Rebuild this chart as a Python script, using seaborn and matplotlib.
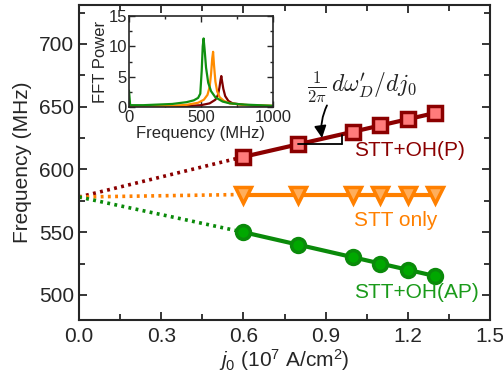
import numpy as np
import pandas as pd
import matplotlib
matplotlib.use("Agg")
import matplotlib.pyplot as plt
import seaborn as sns

# ---- data ----
j0 = [0.6, 0.8, 1.0, 1.1, 1.2, 1.3]
f_P = [610, 620, 630, 635, 640, 645]
f_STT = [580, 580, 580, 580, 580, 580]
f_AP = [550, 540, 530, 525, 520, 515]
f_intercept = 578
j_extrap = [0.0, 0.6]

fft_freq_g = [0, 8, 100, 200, 300, 400, 450, 480, 495, 505, 512, 518, 525, 535, 550, 570, 600, 650, 700, 800, 900, 1000]
fft_pow_g = [2.7, 0.3, 0.3, 0.4, 0.5, 0.8, 1.1, 1.5, 2.2, 6.0, 10.0, 11.3, 9.5, 6.5, 4.0, 2.6, 1.6, 0.9, 0.6, 0.4, 0.3, 0.2]
fft_freq_o = [0, 100, 200, 300, 400, 480, 520, 545, 560, 570, 578, 584, 590, 600, 612, 630, 660, 700, 800, 900, 1000]
fft_pow_o = [0.1, 0.1, 0.15, 0.2, 0.35, 0.7, 1.2, 2.0, 3.3, 5.5, 8.0, 9.1, 7.0, 4.2, 2.6, 1.6, 1.0, 0.6, 0.35, 0.25, 0.2]
fft_freq_r = [0, 100, 200, 300, 400, 500, 560, 600, 618, 628, 636, 641, 646, 655, 668, 690, 720, 800, 900, 1000]
fft_pow_r = [0.05, 0.05, 0.1, 0.1, 0.15, 0.3, 0.6, 1.2, 2.0, 3.2, 4.5, 5.1, 4.3, 3.0, 1.8, 1.0, 0.6, 0.35, 0.2, 0.15]

x_ticks = [0.0, 0.3, 0.6, 0.9, 1.2, 1.5]
y_ticks = [500, 550, 600, 650, 700]

red_line = "#8b0000"
red_face = "#ff7b7b"
orange = "#ff8000"
orange_face = "#ffae5c"
green_line = "#0a8a0a"
green_face = "#00a800"

sns.set_theme(style="ticks")
plt.rcParams["font.family"] = ["Liberation Sans", "DejaVu Sans"]
plt.rcParams["mathtext.fontset"] = "custom"
plt.rcParams["mathtext.rm"] = "Liberation Sans"
plt.rcParams["mathtext.it"] = "Liberation Sans:italic"
plt.rcParams["mathtext.bf"] = "Liberation Sans:bold"

fig = plt.figure(figsize=(5.03, 3.74), dpi=100)
ax = fig.add_axes([79/503, 1-320/374, 411/503, 315/374])

# extrapolated dotted lines
for start, first, col in [(f_intercept, f_P[0], red_line), (f_intercept, f_STT[0], orange), (f_intercept, f_AP[0], green_line)]:
    sns.lineplot(x=j_extrap, y=[start, first], ax=ax, color=col, lw=2.6, linestyle=(0, (0.8, 1.2)))

sns.lineplot(x=j0, y=f_P, ax=ax, color=red_line, lw=3, marker="s", markersize=9.5,
             markerfacecolor=red_face, markeredgecolor=red_line, markeredgewidth=2.5)
sns.lineplot(x=j0, y=f_STT, ax=ax, color=orange, lw=3, marker="v", markersize=11,
             markerfacecolor=orange_face, markeredgecolor=orange, markeredgewidth=2.5)
sns.lineplot(x=j0, y=f_AP, ax=ax, color=green_line, lw=3, marker="o", markersize=10,
             markerfacecolor=green_face, markeredgecolor=green_line, markeredgewidth=2.5)

ax.set_xlim(0, 1.5)
ax.set_ylim(480, 731)
ax.set_xticks(x_ticks)
ax.set_xticklabels([f"{v:.1f}" for v in x_ticks])
ax.set_yticks(y_ticks)
ax.set_xticks(np.arange(0.15, 1.5, 0.3), minor=True)
ax.set_yticks([475 + 25*k for k in range(1, 11)], minor=True)
ax.tick_params(which="both", direction="in", top=True, right=True, width=1.3, labelsize=15)
ax.tick_params(axis="x", pad=5)
ax.tick_params(axis="y", pad=3.5)
ax.tick_params(which="major", length=6)
ax.tick_params(which="minor", length=4)
for s in ax.spines.values():
    s.set_linewidth(1.5)
ax.set_xlabel(r"$j_0$ (10$^7$ A/cm$^2$)", fontsize=15, labelpad=1)
ax.set_ylabel("Frequency (MHz)", fontsize=15, labelpad=5)

ax.text(1.005, 615, "STT+OH(P)", color=red_line, fontsize=15, ha="left", va="center")
ax.text(1.005, 559, "STT only", color=orange, fontsize=15, ha="left", va="center")
ax.text(1.005, 502, "STT+OH(AP)", color="#1a9a1a", fontsize=15, ha="left", va="center")

# slope bracket
ax.plot([0.8, 0.96], [620, 620], color="black", lw=1.3)
ax.plot([0.96, 0.96], [620, 627.5], color="black", lw=1.3)
ax.annotate("", xy=(0.887, 625), xytext=(0.905, 651),
            arrowprops=dict(arrowstyle="-|>,head_width=0.3,head_length=0.6", color="black", lw=1.3,
                            shrinkA=0, shrinkB=0, connectionstyle="arc3,rad=0.15"))
ax.text(1.033, 666, r"$\frac{1}{2\pi}\,d\omega_D'/dj_0$", fontsize=17, ha="center", va="center",
        color="#222222", math_fontfamily="cm")

# inset
axin = fig.add_axes([129/503, 1-107/374, 144/503, 91/374])
sns.lineplot(x=fft_freq_r, y=fft_pow_r, ax=axin, color="#800000", lw=1.6)
sns.lineplot(x=fft_freq_o, y=fft_pow_o, ax=axin, color="#ff8c00", lw=1.6)
sns.lineplot(x=fft_freq_g, y=fft_pow_g, ax=axin, color="#109010", lw=1.6)
axin.set_xlim(0, 1000)
axin.set_ylim(0, 15)
axin.set_xticks([0, 500, 1000])
axin.set_yticks([0, 5, 10, 15])
axin.set_xticks([250, 750], minor=True)
axin.set_yticks([2.5, 7.5, 12.5], minor=True)
axin.tick_params(which="both", direction="in", top=True, right=True, width=1, labelsize=12)
axin.tick_params(axis="x", pad=2.5)
axin.tick_params(axis="y", pad=1.5)
axin.tick_params(which="major", length=4)
axin.tick_params(which="minor", length=2.5)
for s in axin.spines.values():
    s.set_linewidth(1.2)
axin.set_xlabel("Frequency (MHz)", fontsize=12, labelpad=0.5)
axin.set_ylabel("FFT Power", fontsize=12, labelpad=0)

fig.savefig("out.png", dpi=100)
